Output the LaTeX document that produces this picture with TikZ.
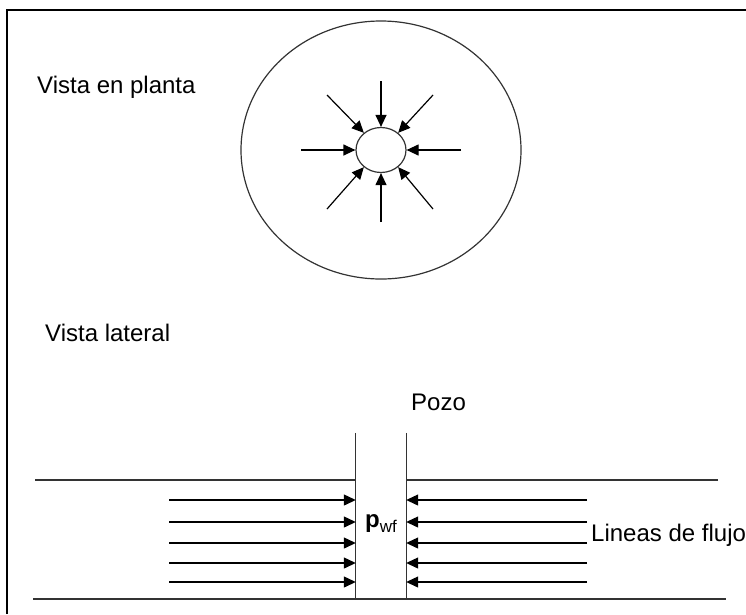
\documentclass[tikz,border=0pt]{standalone}
\usepackage{fontspec}
\setmainfont{Liberation Sans}
\usepackage{tikz}
\usetikzlibrary{arrows.meta,shapes.geometric}

\begin{document}
\begin{tikzpicture}[x=1pt,y=-1pt]
	\tikzset{flecha/.style={line width=1.2pt,-{Triangle[length=12pt,width=11pt]}},
		texto/.style={anchor=base west,inner sep=0pt,font=\fontsize{24}{28}\selectfont},
		linea/.style={line width=1.2pt,draw=black!80}}
	\useasboundingbox (0,0) rectangle (746,614);
	\draw[line width=2pt] (7,614) -- (7,10) -- (746,10);
	% vista en planta
	\node[texto] (planta) at (37,93) {Vista en planta};
	\node[ellipse,linea,minimum width=280pt,minimum height=258pt] (campo) at (381,150) {};
	\node[ellipse,linea,minimum width=50pt,minimum height=45pt,inner sep=0pt] (pozo) at (381,150) {};
	\coordinate (a1) at (301,150);
	\coordinate (a2) at (461,150);
	\coordinate (a3) at (381,81);
	\coordinate (a4) at (381,222);
	\coordinate (a5) at (327,95);
	\coordinate (a6) at (433,95);
	\coordinate (a7) at (327,209);
	\coordinate (a8) at (433,209);
	\draw[flecha] (a1) -- (pozo.west);
	\draw[flecha] (a2) -- (pozo.east);
	\draw[flecha] (a3) -- (pozo.north);
	\draw[flecha] (a4) -- (pozo.south);
	\draw[flecha] (a5) -- (pozo.135);
	\draw[flecha] (a6) -- (pozo.45);
	\draw[flecha] (a7) -- (pozo.225);
	\draw[flecha] (a8) -- (pozo.315);
	% vista lateral
	\node[texto] (lateral) at (45,341) {Vista lateral};
	\node[inner sep=0pt,minimum width=50pt,minimum height=166pt] (tubo) at (381,516) {};
	\draw[linea] (tubo.north west) -- (tubo.south west);
	\draw[linea] (tubo.north east) -- (tubo.south east);
	\node[texto] (nombre) at (411,410) {Pozo};
	\coordinate (c1) at (35,480);
	\coordinate (c2) at (718,480);
	\coordinate (c3) at (33,599);
	\coordinate (c4) at (726,599);
	\draw[linea] (c1) -- (c1 -| tubo.west);
	\draw[linea] (c2) -- (c2 -| tubo.east);
	\draw[linea] (c3) -- (c4);
	\foreach \y [count=\i] in {500,522,543,563,582}{
		\coordinate (l\i) at (169,\y);
		\coordinate (r\i) at (587,\y);
		\draw[flecha] (l\i) -- (l\i -| tubo.west);
		\draw[flecha] (r\i) -- (r\i -| tubo.east);
	}
	\node[texto] (presion) at (365,527) {\textbf{p}\raisebox{-5pt}{\fontsize{17}{19}\selectfont wf}};
	\node[texto] (flujo) at (591,541) {Lineas de flujo};
\end{tikzpicture}
\end{document}
